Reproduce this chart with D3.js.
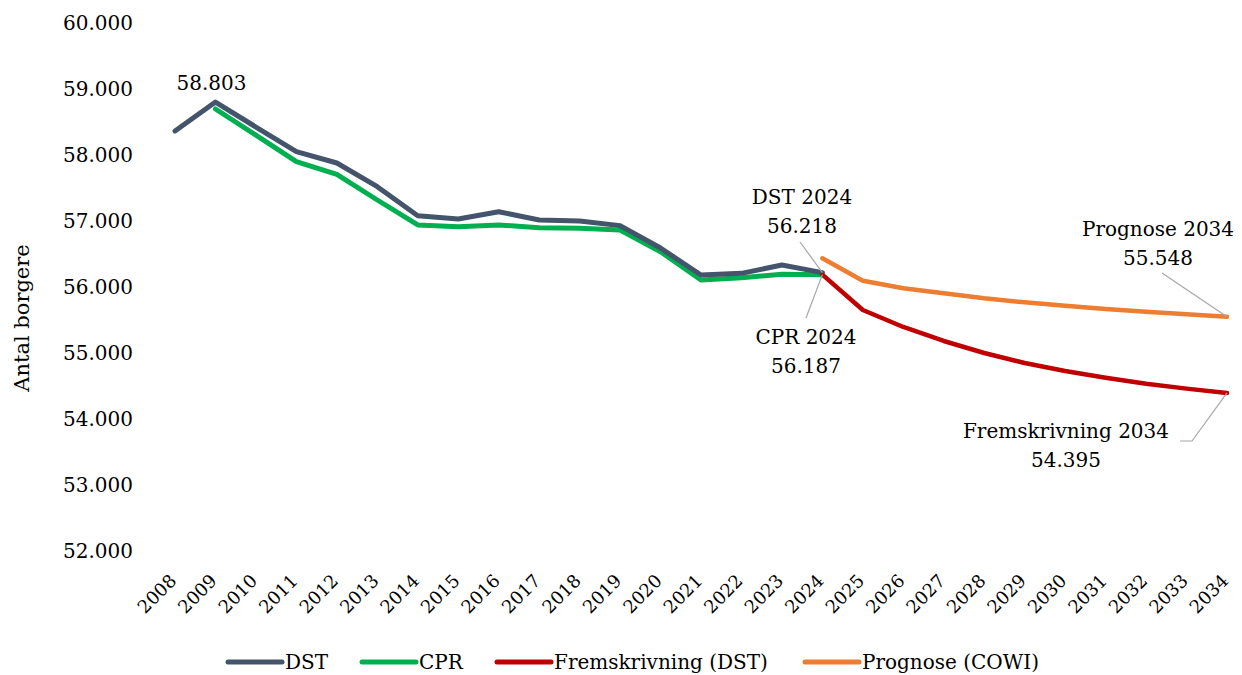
<!DOCTYPE html>
<html><head><meta charset="utf-8">
<script src="https://cdn.jsdelivr.net/npm/d3@7"></script>
<style>body{margin:0;background:#fff}svg{display:block}text{font-family:"DejaVu Serif",serif;fill:#000}</style>
</head><body><svg id="c" width="1242" height="675"></svg>
<script>
const years = d3.range(2008, 2035);
const dstYears = d3.range(2008, 2025);
const dstValues = [58364, 58803, 58424, 58050, 57879, 57520, 57080, 57030, 57141, 57015, 57000, 56930, 56590, 56182, 56207, 56333, 56218];
const cprYears = d3.range(2009, 2025);
const cprValues = [58697, 58300, 57900, 57707, 57318, 56940, 56914, 56940, 56898, 56889, 56864, 56535, 56106, 56141, 56192, 56187];
const fremYears = d3.range(2024, 2035);
const fremValues = [56187, 55652, 55394, 55182, 55000, 54848, 54727, 54625, 54535, 54460, 54395];
const progYears = d3.range(2024, 2035);
const progValues = [56435, 56095, 55980, 55904, 55829, 55768, 55717, 55667, 55626, 55586, 55548];
const yTicks = [52000, 53000, 54000, 55000, 56000, 57000, 58000, 59000, 60000];
const seriesNames = ["DST", "CPR", "Fremskrivning (DST)", "Prognose (COWI)"];
const seriesColors = ["#44546A", "#00B050", "#C00000", "#ED7D31"];

const svg = d3.select("#c");
const x = d3.scalePoint().domain(years).range([175, 1227]);
const y = d3.scaleLinear().domain([52000, 60000]).range([551, 23]);
const loc = d3.formatLocale({decimal: ",", thousands: ".", grouping: [3], currency: ["", ""]});
const fmt = loc.format(",.0f");

// y axis labels
const yAxis = svg.append("g").attr("transform", "translate(133,0)")
  .call(d3.axisLeft(y).tickValues(yTicks).tickFormat(fmt).tickSize(0).tickPadding(0));
yAxis.select(".domain").remove();
yAxis.selectAll("text").attr("font-size", 20).attr("font-family", "DejaVu Serif").attr("fill", "#000");

svg.append("text").attr("transform", "translate(29,318) rotate(-90)")
  .attr("text-anchor", "middle").attr("font-size", 21).text("Antal borgere");

// x axis labels
const xAxis = svg.append("g").attr("transform", "translate(0,582)")
  .call(d3.axisBottom(x).tickSize(0).tickPadding(0));
xAxis.select(".domain").remove();
xAxis.selectAll("text")
  .attr("font-size", 18).attr("font-family", "DejaVu Serif").attr("fill", "#000")
  .attr("text-anchor", "end").attr("dy", 0).attr("y", 0)
  .attr("transform", "translate(2,0) rotate(-45)");

const lineGen = d3.line().x(d => x(d[0])).y(d => y(d[1]));
const series = [
  {yrs: dstYears, vals: dstValues, c: 0, w: 5},
  {yrs: cprYears, vals: cprValues, c: 1, w: 5},
  {yrs: fremYears, vals: fremValues, c: 2, w: 4.5},
  {yrs: progYears, vals: progValues, c: 3, w: 4.5}
];
[1, 0, 2, 3].forEach(i => {
  const s = series[i];
  svg.append("path").datum(s.yrs.map((yr, k) => [yr, s.vals[k]]))
    .attr("d", lineGen).attr("fill", "none").attr("stroke", seriesColors[s.c])
    .attr("stroke-width", s.w).attr("stroke-linecap", "round").attr("stroke-linejoin", "round");
});

// annotations
const lead = "#A6A6A6";
function label(lines, cx, cy) {
  const t = svg.append("text").attr("font-size", 20).attr("text-anchor", "middle");
  lines.forEach((l, i) => t.append("tspan").attr("x", cx).attr("y", cy + i * 29).text(l));
}
function leader(d) {
  svg.append("path").attr("d", d).attr("stroke", lead).attr("fill", "none").attr("stroke-width", 1.2);
}
label([fmt(dstValues[1])], x(2009) - 4, 90);
label(["DST 2024", fmt(dstValues[16])], 802, 204);
leader(`M800,242L${x(2024)},${y(dstValues[16])}`);
label(["CPR 2024", fmt(cprValues[15])], 806, 344);
leader(`M806,318L${x(2024)},${y(cprValues[15])}`);
label(["Prognose 2034", fmt(progValues[10])], 1158, 236);
leader(`M1162,273L${x(2034)},${y(progValues[10])}`);
label(["Fremskrivning 2034", fmt(fremValues[10])], 1066, 438);
leader(`M1180,441L1192,441L${x(2034)},${y(fremValues[10])}`);

// legend
const legX = [228, 362, 497, 805];
seriesNames.forEach((n, i) => {
  const g = svg.append("g").attr("transform", `translate(${legX[i]},662)`);
  g.append("line").attr("x1", 0).attr("x2", 54).attr("stroke", seriesColors[i]).attr("stroke-width", 5).attr("stroke-linecap", "round");
  g.append("text").attr("x", 57).attr("y", 7).attr("font-size", 20).text(n);
});
</script></body></html>
